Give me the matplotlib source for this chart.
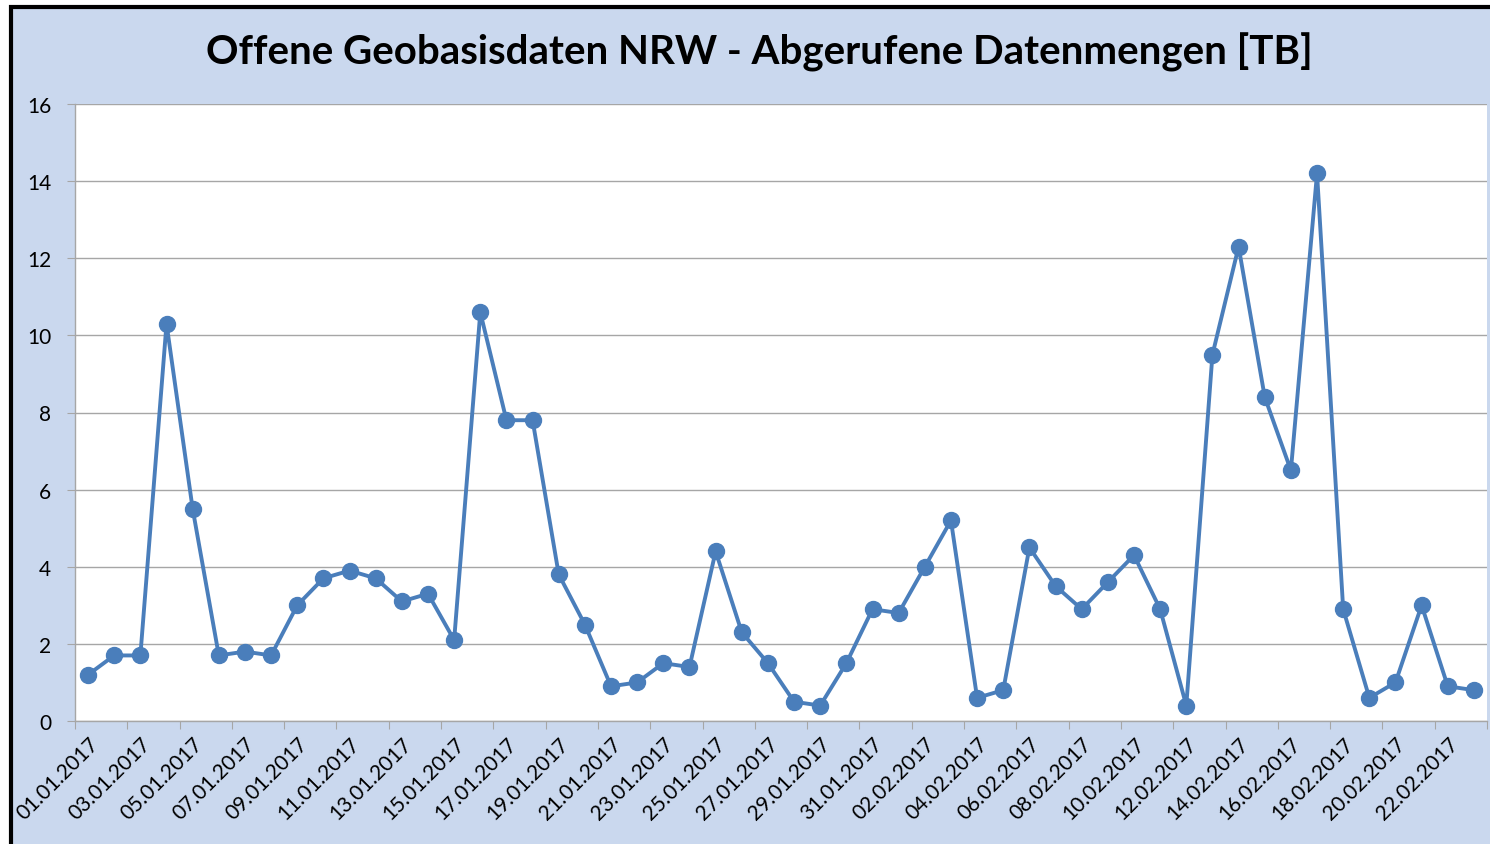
import matplotlib.pyplot as plt
from matplotlib.patches import Rectangle
import numpy as np

# ------------------------------
# Data
# ------------------------------
jan = ["%02d.01.2017" % d for d in range(1, 32)]
feb = ["%02d.02.2017" % d for d in range(1, 24)]
dates = jan + feb

values_tb = [
    1.2, 1.7, 1.7, 10.3, 5.5, 1.7, 1.8, 1.7, 3.0, 3.7,
    3.9, 3.7, 3.1, 3.3, 2.1, 10.6, 7.8, 7.8, 3.8, 2.5,
    0.9, 1.0, 1.5, 1.4, 4.4, 2.3, 1.5, 0.5, 0.4, 1.5,
    2.9,
    2.8, 4.0, 5.2, 0.6, 0.8, 4.5, 3.5, 2.9, 3.6, 4.3,
    2.9, 0.4, 9.5, 12.3, 8.4, 6.5, 14.2, 2.9, 0.6, 1.0,
    3.0, 0.9, 0.8,
]

title = "Offene Geobasisdaten NRW - Abgerufene Datenmengen [TB]"
y_ticks = [0, 2, 4, 6, 8, 10, 12, 14, 16]

# ------------------------------
# Plotting
# ------------------------------
bg = "#CAD8EE"
line_col = "#4A7EBB"
grid_col = "#A6A6A6"

fig = plt.figure(figsize=(14.9, 8.45), dpi=100, facecolor="white")
# chart frame (black border on top/left, light blue fill)
fig.patches.append(Rectangle((11 / 1490, -0.05), 1.2, 1.05 - 8 / 845,
                             transform=fig.transFigure, facecolor=bg,
                             edgecolor="black", linewidth=3, zorder=-10))

ax = fig.add_axes([75 / 1490, 1 - 722 / 845, (1487 - 75) / 1490, (722 - 105) / 845])
ax.set_zorder(1)
ax.set_facecolor("white")

x = np.arange(len(dates))
ax.plot(x, values_tb, color=line_col, linewidth=2.8, marker="o",
        markersize=11.5, markerfacecolor=line_col, markeredgecolor=line_col,
        zorder=3, clip_on=False)

ax.set_xlim(-0.5, len(dates) - 0.5)
ax.set_ylim(0, 16)
ax.set_yticks(y_ticks)
ax.set_yticklabels([str(v) for v in y_ticks], fontsize=15, family="Lato")
ax.yaxis.grid(True, color=grid_col, linewidth=1)
ax.set_axisbelow(True)

# ticks between categories, labels every 2nd day
ax.set_xticks(np.arange(-0.5, len(dates), 2))
ax.set_xticklabels([])
ax.set_xticks(x[::2], minor=True)
ax.set_xticklabels(dates[::2], minor=True, rotation=45, ha="right",
                   rotation_mode="anchor", fontsize=15, family="Lato")
ax.tick_params(axis="x", which="major", length=6, color=grid_col, direction="out")
ax.tick_params(axis="x", which="minor", length=0, pad=9)
ax.tick_params(axis="y", length=6, color=grid_col, pad=11)

for side in ["top", "right"]:
    ax.spines[side].set_visible(False)
for side in ["left", "bottom"]:
    ax.spines[side].set_color(grid_col)
    ax.spines[side].set_linewidth(1)

fig.text(759 / 1490, 1 - 52 / 845, title, ha="center", va="center",
         fontsize=29, fontweight="bold", family="Lato")

fig.savefig("out.png", dpi=100, facecolor=fig.get_facecolor())
